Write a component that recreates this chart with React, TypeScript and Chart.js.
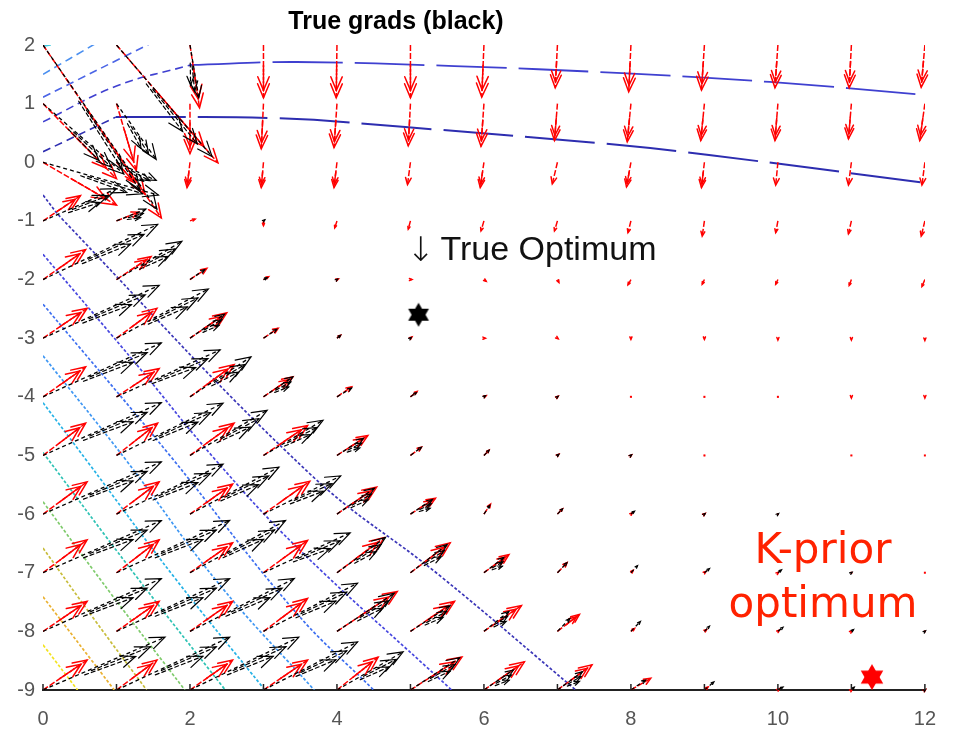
import React, { useEffect, useRef } from "react";
import { Chart, registerables } from "chart.js";

Chart.register(...registerables);

// ---------- data ----------
const GRID_X = [0, 1, 2, 3, 4, 5, 6, 7, 8, 9, 10, 11, 12];
const GRID_Y = [2, 1, 0, -1, -2, -3, -4, -5, -6, -7, -8, -9];

// K-prior gradients (red), one row per GRID_Y value
const RED_U = [
  [1.61, 1.38, 0.13, 0.0, -0.01, 0.0, -0.03, -0.03, -0.03, -0.04, -0.04, -0.03, -0.05],
  [1.0, 0.27, 0.0, -0.03, -0.04, -0.03, -0.04, -0.04, -0.05, -0.05, -0.04, -0.04, -0.07],
  [1.0, 0.25, -0.04, -0.03, -0.04, -0.04, -0.05, -0.07, -0.06, -0.04, -0.03, -0.04, -0.04],
  [0.51, 0.3, 0.07, 0.0, -0.03, -0.03, -0.04, -0.04, -0.04, -0.03, -0.03, -0.04, -0.05],
  [0.58, 0.47, 0.23, 0.07, 0.02, 0.02, 0.03, 0.02, -0.04, -0.03, -0.03, -0.03, -0.04],
  [0.6, 0.55, 0.5, 0.2, 0.05, 0.02, 0.02, 0.01, 0.0, 0.0, 0.0, 0.0, 0.0],
  [0.58, 0.58, 0.6, 0.4, 0.2, 0.09, 0.03, 0.01, 0.01, 0.0, 0.0, 0.0, 0.0],
  [0.58, 0.56, 0.6, 0.6, 0.42, 0.15, 0.07, 0.02, 0.01, 0.01, 0.0, 0.0, 0.0],
  [0.6, 0.58, 0.58, 0.63, 0.54, 0.34, 0.09, 0.07, 0.02, 0.01, 0.01, 0.0, 0.0],
  [0.6, 0.58, 0.58, 0.6, 0.64, 0.54, 0.34, 0.13, 0.03, 0.02, 0.01, 0.01, 0.01],
  [0.6, 0.58, 0.58, 0.6, 0.82, 0.6, 0.51, 0.3, 0.05, 0.03, 0.02, 0.01, 0.01],
  [0.6, 0.55, 0.58, 0.6, 0.56, 0.7, 0.55, 0.47, 0.27, 0.05, 0.02, 0.01, 0.01],
];
const RED_V = [
  [-2.95, -2.01, -1.07, -0.9, -0.9, -0.9, -0.89, -0.73, -0.8, -0.77, -0.73, -0.73, -0.72],
  [-1.28, -1.14, -0.85, -0.77, -0.75, -0.72, -0.73, -0.63, -0.65, -0.63, -0.63, -0.6, -0.63],
  [-0.73, -0.35, -0.43, -0.43, -0.43, -0.38, -0.43, -0.37, -0.42, -0.43, -0.39, -0.39, -0.39],
  [0.43, 0.15, 0.03, -0.08, -0.12, -0.14, -0.17, -0.17, -0.2, -0.26, -0.2, -0.22, -0.26],
  [0.51, 0.39, 0.19, 0.05, 0.01, 0.0, -0.03, -0.05, -0.09, -0.08, -0.08, -0.1, -0.12],
  [0.51, 0.51, 0.43, 0.17, 0.05, 0.02, 0.0, -0.01, -0.02, -0.02, -0.03, -0.03, -0.04],
  [0.51, 0.48, 0.55, 0.34, 0.17, 0.09, 0.02, 0.01, 0.0, -0.01, -0.01, -0.02, -0.02],
  [0.55, 0.55, 0.55, 0.51, 0.34, 0.14, 0.09, 0.02, 0.01, 0.0, 0.0, -0.01, -0.01],
  [0.55, 0.55, 0.51, 0.56, 0.46, 0.27, 0.17, 0.09, 0.02, 0.01, 0.0, 0.0, 0.0],
  [0.56, 0.56, 0.51, 0.55, 0.6, 0.51, 0.31, 0.17, 0.04, 0.02, 0.01, 0.0, 0.0],
  [0.51, 0.51, 0.51, 0.56, 0.68, 0.51, 0.44, 0.29, 0.05, 0.03, 0.02, 0.01, 0.0],
  [0.51, 0.51, 0.51, 0.51, 0.56, 0.56, 0.48, 0.43, 0.2, 0.05, 0.02, 0.01, 0.01],
];

// True gradients (black)
const BLACK_U = [
  [1.55, 1.3, 0.12, 0, 0, 0, 0, 0, 0, 0, 0, 0, 0],
  [1.1, 0.54, 0, 0, 0, 0, 0, 0, 0, 0, 0, 0, 0],
  [1.57, 0.54, 0, 0, 0, 0, 0, 0, 0, 0, 0, 0, 0],
  [1.0, 0.4, 0, 0.02, 0, 0, 0, 0, 0, 0, 0, 0, 0],
  [1.56, 0.89, 0.2, 0.05, 0.01, 0, 0, 0, 0, 0, 0, 0, 0],
  [1.58, 1.25, 0.47, 0.18, 0.05, 0.01, 0, 0, 0, 0, 0, 0, 0],
  [1.61, 1.41, 0.83, 0.4, 0.2, 0.08, 0.02, 0.01, 0, 0, 0, 0, 0],
  [1.61, 1.45, 1.05, 0.81, 0.36, 0.15, 0.07, 0.02, 0.01, 0, 0, 0, 0],
  [1.61, 1.45, 1.21, 1.05, 0.51, 0.3, 0.08, 0.07, 0.05, 0.01, 0.01, 0, 0],
  [1.61, 1.54, 1.3, 1.18, 0.66, 0.5, 0.27, 0.13, 0.09, 0.07, 0.05, 0.01, 0],
  [1.61, 1.54, 1.42, 1.28, 0.78, 0.54, 0.34, 0.17, 0.13, 0.07, 0.07, 0.03, 0.01],
  [1.66, 1.54, 1.48, 1.28, 0.9, 0.67, 0.4, 0.34, 0.2, 0.13, 0.07, 0.04, 0.01],
];
const BLACK_V = [
  [-2.8, -1.9, -0.9, 0, 0, 0, 0, 0, 0, 0, 0, 0, 0],
  [-1.2, -0.95, 0, 0, 0, 0, 0, 0, 0, 0, 0, 0, 0],
  [-0.56, -0.31, 0, 0, 0, 0, 0, 0, 0, 0, 0, 0, 0],
  [0.55, 0.2, 0, 0.02, 0, 0, 0, 0, 0, 0, 0, 0, 0],
  [0.94, 0.65, 0.17, 0.03, 0.01, 0, 0, 0, 0, 0, 0, 0, 0],
  [0.9, 0.84, 0.41, 0.15, 0.05, 0.01, 0, 0, 0, 0, 0, 0, 0],
  [0.92, 0.8, 0.68, 0.34, 0.15, 0.07, 0.02, 0.01, 0, 0, 0, 0, 0],
  [0.9, 0.89, 0.77, 0.6, 0.29, 0.14, 0.09, 0.02, 0.01, 0, 0, 0, 0],
  [0.89, 0.85, 0.8, 0.65, 0.44, 0.25, 0.15, 0.09, 0.05, 0.01, 0.01, 0, 0],
  [0.89, 0.89, 0.89, 0.68, 0.6, 0.48, 0.26, 0.17, 0.12, 0.07, 0.05, 0.01, 0],
  [0.9, 0.9, 0.9, 0.82, 0.65, 0.44, 0.34, 0.22, 0.17, 0.09, 0.07, 0.03, 0.01],
  [0.9, 0.9, 0.9, 0.82, 0.65, 0.55, 0.34, 0.31, 0.17, 0.14, 0.05, 0.05, 0.01],
];

// contour lines, lower-left family (x, y pairs)
const C1 = [[0, -0.56], [0.27, -0.98], [3.62, -5.3], [5.4, -7.05], [7.25, -9.0]];
const C2 = [[0, -1.57], [1.3, -3.49], [2.35, -5.08], [3.45, -6.56], [5.56, -9.0]];
const C3 = [[0, -2.42], [1.7, -4.96], [3.45, -7.69], [4.5, -9.0]];
const C4 = [[0, -3.3], [1.13, -5.08], [2.4, -7.2], [3.69, -9.0]];
const C5 = [[0, -4.1], [0.59, -5.08], [1.8, -7.1], [3.02, -9.0]];
const C6 = [[0, -4.95], [1.2, -6.95], [2.48, -9.0]];
const C7 = [[0, -5.79], [0.95, -7.4], [1.93, -9.0]];
const C8 = [[0, -6.58], [0.7, -7.8], [1.41, -9.0]];
const C9 = [[0, -7.41], [0.97, -9.0]];
const C10 = [[0, -8.23], [0.47, -9.0]];
// upper family
const T1 = [[0.0, 1.98], [0.2, 2.02]];
const T2 = [[0, 1.5], [0.75, 2.05]];
const T3 = [[0, 1.11], [1.5, 2.05]];
const T4_LEFT = [[0, 0.69], [1.0, 1.3], [2.01, 1.66]];
const T4_RIGHT = [[2.01, 1.66], [3.45, 1.71], [5.6, 1.64], [7.88, 1.52], [9.89, 1.37], [12, 1.15]];
const T5_LEFT = [[0, 0.18], [0.99, 0.77]];
const T5_RIGHT = [[0.99, 0.77], [3.22, 0.75], [4.93, 0.6], [7.88, 0.29], [9.09, 0.12], [12, -0.35]];

const TRUE_OPT = [5.11, -2.6];
const KPRIOR_OPT = [11.28, -8.78];
const TITLE = "True grads (black)";
const TRUE_OPT_ARROW = "\u2193";
const TRUE_OPT_LABEL = "True Optimum";
const TRUE_OPT_LABEL_AT = [5.0, -1.5];
const KPRIOR_LABEL = ["K-prior", "optimum"];

// ---------- helpers ----------
function arrowPoints(U: number[][], V: number[][]) {
  const pts: any[] = [];
  GRID_Y.forEach((y, r) => {
    GRID_X.forEach((x, c) => {
      const u = U[r][c];
      const v = V[r][c];
      if (u === 0 && v === 0) return;
      pts.push({ x, y }, { x: x + u, y: y + v }, { x: x + u, y: null });
    });
  });
  return pts;
}

function toXY(arr: number[][]) {
  return arr.map(([x, y]) => ({ x, y }));
}

function hexagram(color: string, r: number) {
  const size = Math.ceil(r * 2 + 4);
  const cv = document.createElement("canvas");
  cv.width = size;
  cv.height = size;
  const c = cv.getContext("2d")!;
  const cx = size / 2;
  const cy = size / 2;
  c.fillStyle = color;
  for (const off of [-Math.PI / 2, Math.PI / 2]) {
    c.beginPath();
    for (let k = 0; k < 3; k++) {
      const a = off + (k * 2 * Math.PI) / 3;
      const px = cx + r * Math.cos(a);
      const py = cy + r * Math.sin(a);
      if (k === 0) c.moveTo(px, py);
      else c.lineTo(px, py);
    }
    c.closePath();
    c.fill();
  }
  return cv;
}

const quiverHeads = {
  id: "quiverHeads",
  afterDatasetDraw(chart: any, args: any) {
    const ds: any = chart.data.datasets[args.index];
    const q = ds.quiver;
    if (!q) return;
    const els = args.meta.data;
    const ctx = chart.ctx;
    ctx.save();
    ctx.strokeStyle = q.color;
    ctx.lineWidth = q.width;
    ctx.lineCap = "round";
    for (let i = 0; i + 1 < els.length; i += 3) {
      const t0 = els[i];
      const t1 = els[i + 1];
      const dx = t1.x - t0.x;
      const dy = t1.y - t0.y;
      const L = Math.hypot(dx, dy);
      if (L < 0.8) {
        ctx.fillStyle = q.color;
        ctx.fillRect(t0.x - 1, t0.y - 1, 2, 2);
        continue;
      }
      const ux = dx / L;
      const uy = dy / L;
      const nx = -uy;
      const ny = ux;
      q.fan.forEach((f: number, k: number) => {
        const sh = L > 25 ? q.shift * k : 0;
        const hx = t0.x + dx * f + nx * sh;
        const hy = t0.y + dy * f + ny * sh;
        const ex = hx - t0.x;
        const ey = hy - t0.y;
        const el = Math.hypot(ex, ey);
        const vx = ex / el;
        const vy = ey / el;
        if (k > 0 && L > 25) {
          ctx.setLineDash(q.dash);
          ctx.beginPath();
          ctx.moveTo(t0.x + ex * 0.45, t0.y + ey * 0.45);
          ctx.lineTo(hx, hy);
          ctx.stroke();
        }
        if (k > 0 && L <= 25) return;
        const hl = Math.min(q.headMax, Math.max(2.5, el * q.headFrac));
        const w = hl * q.headWidth;
        ctx.setLineDash([]);
        ctx.beginPath();
        ctx.moveTo(hx - vx * hl - vy * w, hy - vy * hl + vx * w);
        ctx.lineTo(hx, hy);
        ctx.lineTo(hx - vx * hl + vy * w, hy - vy * hl - vx * w);
        ctx.stroke();
      });
    }
    ctx.restore();
  },
};

const overlayText = {
  id: "overlayText",
  afterDraw(chart: any) {
    const ctx = chart.ctx;
    const xs = chart.scales.x;
    const ys = chart.scales.y;
    const area = chart.chartArea;
    ctx.save();
    // bottom axis ticks (inward)
    ctx.strokeStyle = "#222";
    ctx.lineWidth = 1.5;
    xs.ticks.forEach((t: any) => {
      const px = xs.getPixelForValue(t.value);
      ctx.beginPath();
      ctx.moveTo(px, area.bottom);
      ctx.lineTo(px, area.bottom - 6);
      ctx.stroke();
    });
    // title
    ctx.fillStyle = "#000";
    ctx.font = 'bold 25px "Liberation Sans", Arial, sans-serif';
    ctx.textAlign = "center";
    ctx.textBaseline = "middle";
    ctx.fillText(TITLE, area.left + 353, 22);
    // True optimum label
    const ax = xs.getPixelForValue(TRUE_OPT_LABEL_AT[0]);
    const ay = ys.getPixelForValue(TRUE_OPT_LABEL_AT[1]);
    ctx.fillStyle = "#111";
    ctx.textAlign = "left";
    ctx.textBaseline = "middle";
    ctx.font = '300 34px "DejaVu Sans", sans-serif';
    ctx.fillText(TRUE_OPT_ARROW, ax - 4, ay + 2);
    ctx.font = '34px "Liberation Sans", Arial, sans-serif';
    ctx.fillText(TRUE_OPT_LABEL, ax + 30, ay);
    // K-prior label
    ctx.font = '42px "DejaVu Sans", Verdana, sans-serif';
    ctx.textAlign = "center";
    ctx.textBaseline = "alphabetic";
    ctx.fillStyle = "#ff2200";
    ctx.fillText(KPRIOR_LABEL[0], 823, 563);
    ctx.fillText(KPRIOR_LABEL[1], 823, 617);
    ctx.restore();
  },
};

const LOWER_COLORS = [
  "#3b36b8", "#4747df", "#3d6ff0", "#3f97f3", "#25b2e6",
  "#2dc2b4", "#7fcb6c", "#c8bd3c", "#eab131", "#f3e31f",
];

export default function App() {
  const ref = useRef<HTMLCanvasElement>(null);

  useEffect(() => {
    document.body.style.margin = "0";
    const canvas = ref.current;
    if (!canvas) return;

    const lower = [C1, C2, C3, C4, C5, C6, C7, C8, C9, C10].map((arr, i) => ({
      data: toXY(arr),
      showLine: true,
      borderColor: LOWER_COLORS[i],
      borderWidth: 1.7,
      borderDash: [3, 2],
      pointRadius: 0,
      tension: 0.4,
      order: 5,
    }));
    const upperSpec: [number[][], string, number[], number][] = [
      [T1, "#3ccbe0", [8, 5], 1.6],
      [T2, "#4a8ff0", [8, 5], 1.6],
      [T3, "#4a64e6", [8, 5], 1.6],
      [T4_LEFT, "#3f40d0", [8, 5], 1.6],
      [T4_RIGHT, "#3f40d0", [70, 12], 1.8],
      [T5_LEFT, "#2d2db0", [8, 5], 1.6],
      [T5_RIGHT, "#2d2db0", [70, 12], 2],
    ];
    const upper = upperSpec.map(([arr, color, dash, w]) => ({
      data: toXY(arr),
      showLine: true,
      borderColor: color,
      borderWidth: w,
      borderDash: dash,
      pointRadius: 0,
      tension: 0.4,
      order: 5,
    }));

    const chart = new Chart(canvas, {
      type: "scatter",
      data: {
        datasets: [
          ...lower,
          ...upper,
          {
            data: arrowPoints(RED_U, RED_V),
            showLine: true,
            spanGaps: false,
            borderColor: "#ff0000",
            borderWidth: 1.5,
            borderDash: [6, 2],
            pointRadius: 0,
            order: 3,
            quiver: {
              color: "#ff0000", width: 1.5, fan: [1, 0.86], shift: 0,
              headFrac: 0.3, headMax: 14, headWidth: 0.42, dash: [6, 2],
            },
          } as any,
          {
            data: arrowPoints(BLACK_U, BLACK_V),
            showLine: true,
            spanGaps: false,
            borderColor: "#000000",
            borderWidth: 1.3,
            borderDash: [4, 3],
            pointRadius: 0,
            order: 2,
            quiver: {
              color: "#000000", width: 1.2, fan: [1, 0.87, 0.74], shift: 3,
              headFrac: 0.22, headMax: 15, headWidth: 0.4, dash: [4, 3],
            },
          } as any,
          {
            data: [{ x: TRUE_OPT[0], y: TRUE_OPT[1] }],
            pointStyle: hexagram("#000000", 12) as any,
            pointRadius: 12,
            order: 1,
          },
          {
            data: [{ x: KPRIOR_OPT[0], y: KPRIOR_OPT[1] }],
            pointStyle: hexagram("#ff0000", 13) as any,
            pointRadius: 12,
            order: 1,
          },
        ],
      },
      options: {
        responsive: false,
        animation: false,
        devicePixelRatio: 1,
        layout: { padding: { top: 45, right: 16, left: 0, bottom: 0 } },
        plugins: {
          legend: { display: false },
          tooltip: { enabled: false },
          title: { display: false },
        },
        scales: {
          x: {
            type: "linear",
            min: 0,
            max: 12,
            ticks: {
              stepSize: 1,
              autoSkip: false,
              maxRotation: 0,
              padding: 17,
              color: "#555",
              font: { family: '"Liberation Sans", Arial, sans-serif', size: 20 },
              callback: (v: any) => (Number(v) % 2 === 0 ? String(v) : ""),
            },
            grid: { display: false, drawTicks: false },
            border: { display: true, color: "#222", width: 2 },
            afterFit: (s: any) => {
              s.height = 40;
            },
          },
          y: {
            type: "linear",
            min: -9,
            max: 2,
            ticks: {
              stepSize: 1,
              autoSkip: false,
              padding: 8,
              color: "#555",
              font: { family: '"Liberation Sans", Arial, sans-serif', size: 20 },
            },
            grid: { display: false, drawTicks: false },
            border: { display: false },
            afterFit: (s: any) => {
              s.width = 43;
            },
          },
        },
      } as any,
      plugins: [quiverHeads, overlayText],
    });
    return () => chart.destroy();
  }, []);

  return (
    <canvas
      ref={ref}
      width={953}
      height={730}
      style={{ display: "block", width: 953, height: 730 }}
    />
  );
}
